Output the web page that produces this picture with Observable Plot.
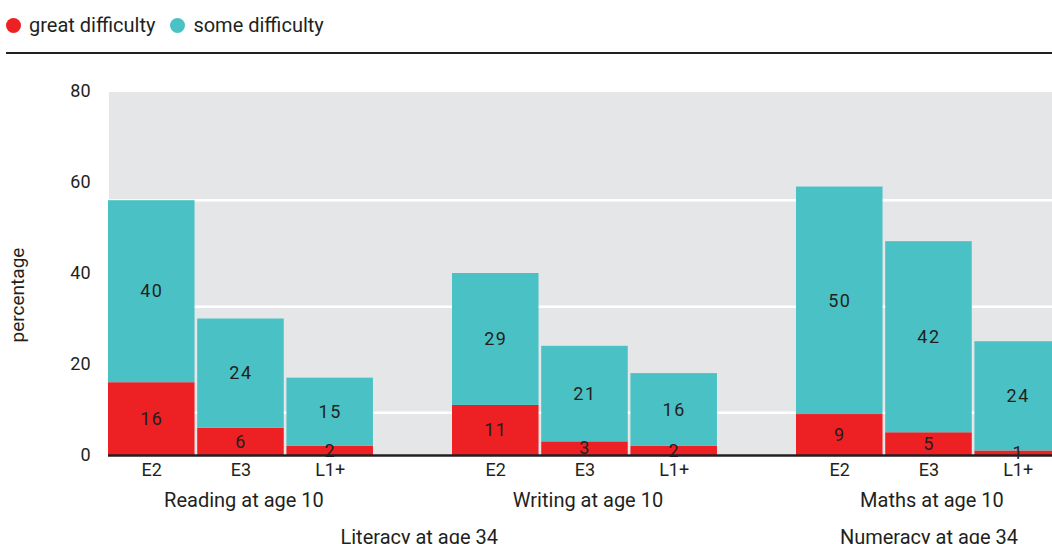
<!DOCTYPE html>
<html><head><meta charset="utf-8">
<script src="https://cdn.jsdelivr.net/npm/d3@7"></script>
<script src="https://cdn.jsdelivr.net/npm/@observablehq/plot@0.6"></script>
<style>
html,body{margin:0;padding:0;overflow:hidden;background:#fff;width:1052px;height:544px;}
body{font-family:Roboto, sans-serif;color:#231f20;position:relative;}
#legend{position:absolute;left:6px;top:13px;display:flex;align-items:center;font-size:20px;line-height:24px;}
.sw{display:inline-block;width:15px;height:15px;border-radius:50%;margin-right:8px;}
.item{display:flex;align-items:center;margin-right:15px;}
#rule{position:absolute;left:6px;top:52px;width:1100px;height:2px;background:#231f20;}
#chart{position:absolute;left:0;top:60px;width:1140px;}
#chart svg{max-width:none !important;}
#ylabel{position:absolute;left:17px;top:295px;transform:translate(-50%,-50%) rotate(-90deg);font-size:19px;white-space:nowrap;}
.vals text{letter-spacing:1.5px;}
</style>
</head>
<body>
<div id="legend"></div>
<div id="rule"></div>
<div id="ylabel">percentage</div>
<div id="chart"></div>
<script>
const groups = ["Reading at age 10", "Writing at age 10", "Maths at age 10"];
const levels = ["E2", "E3", "L1+"];
const types = ["great difficulty", "some difficulty"];
const greatDifficulty = [[16, 6, 2], [11, 3, 2], [9, 5, 1]];
const someDifficulty = [[40, 24, 15], [29, 21, 16], [50, 42, 24]];
const yTicks = [0, 20, 40, 60, 80];
const gridValues = [9.4, 32.7, 56.1];
const literacyLabel = ["Literacy at age 34"];
const numeracyLabel = ["Numeracy at age 34"];
const colors = ["#ed2024", "#4ac2c5"];

const data = [];
groups.forEach((g, gi) => levels.forEach((l, li) => {
  data.push({group: g, level: l, type: types[0], value: greatDifficulty[gi][li]});
  data.push({group: g, level: l, type: types[1], value: someDifficulty[gi][li]});
}));

// legend
const legend = document.getElementById("legend");
types.forEach((t, i) => {
  const it = document.createElement("span");
  it.className = "item";
  it.innerHTML = `<span class="sw" style="background:${colors[i]}"></span><span>${t}</span>`;
  legend.appendChild(it);
});

const W = 1140;
const plot = Plot.plot({
  width: W,
  height: 484,
  marginLeft: 108,
  marginRight: 0,
  marginTop: 31,
  marginBottom: 89,
  style: {fontFamily: "Roboto, sans-serif", color: "#231f20", background: "transparent", overflow: "visible", maxWidth: "none"},
  fx: {domain: groups, padding: 0, axis: null},
  x: {domain: levels, paddingInner: 0.03, paddingOuter: 0.443, align: 0, round: false, axis: null},
  y: {domain: [0, 80], axis: null},
  color: {domain: types, range: colors},
  marks: [
    Plot.frame({fill: "#e5e6e8", stroke: "none", shapeRendering: "crispEdges"}),
    Plot.ruleY(gridValues, {stroke: "white", strokeWidth: 2.5}),
    Plot.barY(data, {fx: "group", x: "level", y: "value", fill: "type"}),
    Plot.text(data, Plot.stackY({fx: "group", x: "level", y: "value", text: "value", fill: "#231f20", fontSize: 18, className: "vals"})),
    Plot.ruleY([0], {stroke: "#231f20", strokeWidth: 2.5}),
    Plot.axisY({ticks: yTicks, tickSize: 0, tickPadding: 18, label: null, fontSize: 18}),
    Plot.axisX({tickSize: 0, tickPadding: 8, label: null, fontSize: 18}),
    Plot.text(groups, {fx: d => d, x: () => "E3", text: d => d, frameAnchor: "bottom", dy: 51, dx: 3, fontSize: 20, fill: "#231f20"}),
    Plot.text(literacyLabel, {fx: () => groups[0], x: () => "L1+", text: d => d, frameAnchor: "bottom", dy: 88, dx: 89, fontSize: 20, fill: "#231f20"}),
    Plot.text(numeracyLabel, {fx: () => groups[2], x: () => "E3", text: d => d, frameAnchor: "bottom", dy: 88, fontSize: 20, fill: "#231f20"})
  ]
});
document.getElementById("chart").appendChild(plot);
</script>
</body></html>
